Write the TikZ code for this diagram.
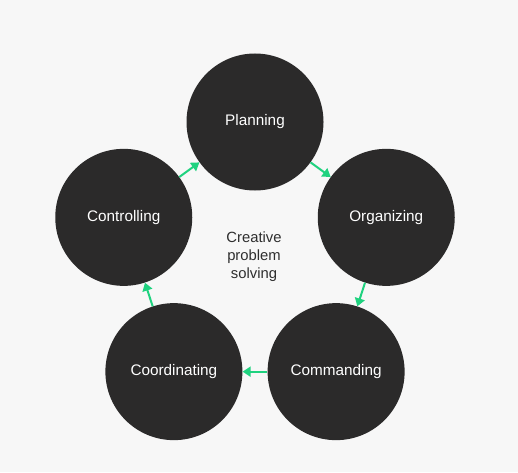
\documentclass[tikz,border=0pt]{standalone}
\usepackage{fontspec}
\setmainfont{Liberation Sans}
\usepackage{tikz}
\usetikzlibrary{arrows.meta,calc}
\definecolor{bgGrey}{HTML}{F7F7F7}
\definecolor{cDark}{HTML}{2B2A2A}
\definecolor{cGreen}{HTML}{1FD27F}
\definecolor{cText}{HTML}{2E2E2E}

\begin{document}
\begin{tikzpicture}[x=1pt, y=1pt, font=\fontsize{15.3}{18}\selectfont,
  c/.style={circle, fill=cDark, text=white, minimum size=137pt, inner sep=0pt},
  e/.style={-{Triangle[length=8pt,width=10pt]}, line width=2pt, cGreen}]
\fill[bgGrey] (0,0) rectangle (518,472);
\useasboundingbox (0,0) rectangle (518,472);
\node[text=cText, align=center, font=\fontsize{14.8}{18}\selectfont] (ctr) at (254,215) {Creative\\problem\\solving};
\coordinate (mid) at (255,212);
\node[c] (plan) at ($(mid)+(90:138)$) {Planning};
\node[c] (org) at ($(mid)+(18:138)$) {Organizing};
\node[c] (cmd) at ($(mid)+(-54:138)$) {Commanding};
\node[c] (coord) at ($(mid)+(-126:138)$) {Coordinating};
\node[c] (ctrl) at ($(mid)+(162:138)$) {Controlling};
\draw[e] (plan) -- (org);
\draw[e] (org) -- (cmd);
\draw[e] (cmd) -- (coord);
\draw[e] (coord) -- (ctrl);
\draw[e] (ctrl) -- (plan);
\end{tikzpicture}
\end{document}
